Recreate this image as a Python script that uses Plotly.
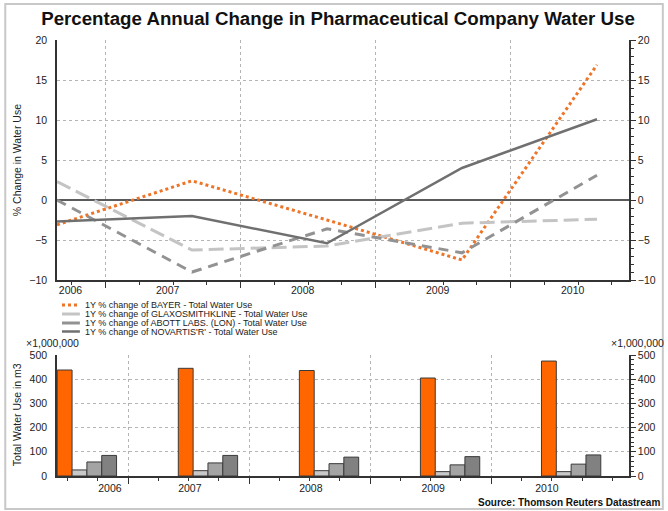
import plotly.graph_objects as go

# ---------------- data ----------------
years = [2006, 2007, 2008, 2009, 2010]
year_labels = ["2006", "2007", "2008", "2009", "2010"]

series_names = [
    "1Y % change of BAYER - Total Water Use",
    "1Y % change of GLAXOSMITHKLINE - Total Water Use",
    "1Y % change of ABOTT LABS. (LON) - Total Water Use",
    "1Y % change of NOVARTIS'R' - Total Water Use",
]
bayer_chg = [-3.1, 2.4, -2.5, -7.5, 16.9]
glaxo_chg = [2.3, -6.25, -5.75, -2.9, -2.4]
abott_chg = [0.0, -9.0, -3.6, -6.6, 3.1]
novartis_chg = [-2.7, -2.0, -5.4, 4.0, 10.1]

# total water use, millions of m3
bayer_use = [438, 445, 436, 405, 475]
glaxo_use = [25, 22, 22, 18, 18]
abott_use = [58, 54, 51, 46, 49]
novartis_use = [85, 85, 78, 80, 87]

# axis tick positions (time axis: year grid and mid-period labels)
top_grid = [2006.36, 2007.36, 2008.36, 2009.36]
top_label_pos = [2006.10, 2006.82, 2007.82, 2008.82, 2009.82]
bot_grid = [2006.34, 2007.34, 2008.34, 2009.34]
bot_label_pos = [2006.19, 2006.85, 2007.85, 2008.86, 2009.80]

# ---------------- style ----------------
FONT = "Liberation Sans, Arial, sans-serif"
line_colors = ["#EE7428", "#C4C4C4", "#929292", "#707070"]
line_dash = ["3px,3px", "15px,6px", "10px,7px", "solid"]
line_width = [3, 3, 3, 2.5]
bar_colors = ["#FF6600", "#C8C8C8", "#A4A4A4", "#818181"]
GRID = "#B4B4B4"
AX = "#333333"

top_range = [2006.0, 2010.237]
bot_range = [2005.753, 2010.478]

fig = go.Figure()

chg_data = [bayer_chg, glaxo_chg, abott_chg, novartis_chg]
for name, vals, c, d, w in zip(series_names, chg_data, line_colors, line_dash, line_width):
    fig.add_trace(go.Scatter(x=years, y=vals, mode="lines", name=name,
                             line=dict(color=c, dash=d, width=w),
                             xaxis="x", yaxis="y", showlegend=False))

use_data = [bayer_use, glaxo_use, abott_use, novartis_use]
for name, vals, c in zip(series_names, use_data, bar_colors):
    fig.add_trace(go.Bar(x=years, y=vals, name=name, marker=dict(color=c, line=dict(color="#3a3a3a", width=1)),
                         xaxis="x2", yaxis="y3", showlegend=False))

# dummy traces so label / right axes are drawn
fig.add_trace(go.Scatter(x=[None], y=[None], xaxis="x3", yaxis="y2", showlegend=False, hoverinfo="skip"))
fig.add_trace(go.Scatter(x=[None], y=[None], xaxis="x4", yaxis="y4", showlegend=False, hoverinfo="skip"))

tickfont = dict(family=FONT, size=10.5, color="#222")

top_dom = [0.4495, 1.0]
bot_dom = [0.0, 0.2775]

fig.update_layout(
    width=668, height=511,
    margin=dict(l=57, r=36, t=40, b=35),
    paper_bgcolor="white", plot_bgcolor="white",
    barmode="group", bargap=0.51, bargroupgap=0,
    font=dict(family=FONT, color="#222"),
    title=dict(text="<b>Percentage Annual Change in Pharmaceutical Company Water Use</b>",
               x=0.506, xanchor="center", y=1 - 18 / 511, yanchor="middle",
               font=dict(family=FONT, size=18.7, color="#111")),
    xaxis=dict(domain=[0, 1], anchor="y", range=top_range, tickmode="array",
               tickvals=top_grid, ticktext=[""] * len(top_grid),
               showgrid=True, gridcolor=GRID, griddash="dot", gridwidth=1,
               ticks="outside", ticklen=6, tickcolor=AX,
               minor=dict(dtick=0.25, tick0=2006.11, ticks="outside", ticklen=3, tickcolor=AX, showgrid=False),
               showline=True, linecolor=AX, linewidth=1.5, zeroline=False),
    xaxis3=dict(overlaying="x", anchor="y", range=top_range, tickmode="array",
                tickvals=top_label_pos, ticktext=year_labels, ticks="", showgrid=False,
                showline=False, zeroline=False, tickfont=tickfont, side="bottom",
                ticklabelstandoff=2),
    yaxis=dict(domain=top_dom, anchor="x", range=[-10, 20], dtick=5, tick0=0,
               showgrid=True, gridcolor=GRID, griddash="dot", gridwidth=1,
               zeroline=True, zerolinecolor="#5a5a5a", zerolinewidth=2,
               showline=True, linecolor=AX, linewidth=1.5, ticks="",
               ticklabelstandoff=6, tickfont=tickfont),
    yaxis2=dict(overlaying="y", anchor="x", side="right", range=[-10, 20], dtick=5, tick0=0,
                showgrid=False, zeroline=False, showline=True, linecolor=AX, linewidth=1.5,
                ticks="outside", ticklen=5, tickcolor=AX,
                minor=dict(dtick=1, ticks="outside", ticklen=3, tickcolor=AX),
                tickfont=tickfont),
    xaxis2=dict(domain=[0, 1], anchor="y3", range=bot_range, tickmode="array",
                tickvals=bot_grid, ticktext=[""] * len(bot_grid),
                showgrid=True, gridcolor=GRID, griddash="dot", gridwidth=1,
                ticks="outside", ticklen=6, tickcolor=AX,
                minor=dict(dtick=0.25, tick0=2006.09, ticks="outside", ticklen=3, tickcolor=AX, showgrid=False),
                showline=True, linecolor=AX, linewidth=1.5, zeroline=False),
    xaxis4=dict(overlaying="x2", anchor="y3", range=bot_range, tickmode="array",
                tickvals=bot_label_pos, ticktext=year_labels, ticks="", showgrid=False,
                showline=False, zeroline=False, tickfont=tickfont, side="bottom",
                ticklabelstandoff=4),
    yaxis3=dict(domain=bot_dom, anchor="x2", range=[0, 500], dtick=100,
                showgrid=True, gridcolor=GRID, griddash="dot", gridwidth=1,
                zeroline=False, showline=True, linecolor=AX, linewidth=1.5, ticks="",
                ticklabelstandoff=6, tickfont=tickfont),
    yaxis4=dict(overlaying="y3", anchor="x2", side="right", range=[0, 500], dtick=100,
                showgrid=False, zeroline=False, showline=True, linecolor=AX, linewidth=1.5,
                ticks="outside", ticklen=5, tickcolor=AX,
                minor=dict(dtick=20, ticks="outside", ticklen=3, tickcolor=AX),
                tickfont=tickfont),
    showlegend=False,
)

# helpers: pixel -> paper
def px_x(px):
    return (px - 57) / 575.0

def px_y(py):
    return (476 - py) / 436.0

ann = []
ann.append(dict(text="% Change in Water Use", x=px_x(17), y=px_y(160), textangle=-90,
                font=dict(family=FONT, size=10.5, color="#222")))
ann.append(dict(text="Total Water Use in m3", x=px_x(17), y=px_y(415), textangle=-90,
                font=dict(family=FONT, size=10.5, color="#222")))
ann.append(dict(text="×1,000,000", x=px_x(24), y=px_y(343), xanchor="left",
                font=dict(family=FONT, size=10.5, color="#222")))
ann.append(dict(text="×1,000,000", x=px_x(612), y=px_y(343), xanchor="left",
                font=dict(family=FONT, size=10.5, color="#222")))
ann.append(dict(text="<b>Source: Thomson Reuters Datastream</b>", x=px_x(665), y=px_y(502),
                xanchor="right", font=dict(family=FONT, size=10, color="#111")))

# custom compact legend
leg_y = [305, 314, 323, 331.5]
leg_shape_dash = ["dot", "solid", "solid", "solid"]
shapes = []
for name, c, yy, d, w in zip(series_names, line_colors, leg_y, leg_shape_dash, line_width):
    ann.append(dict(text=name, x=px_x(83), y=px_y(yy), xanchor="left", yanchor="middle",
                    font=dict(family=FONT, size=9, color="#222")))
    shapes.append(dict(type="line", xref="paper", yref="paper", x0=px_x(62), x1=px_x(80),
                       y0=px_y(yy), y1=px_y(yy), line=dict(color=c, width=w, dash=d)))

for a in ann:
    a.setdefault("xref", "paper")
    a.setdefault("yref", "paper")
    a.setdefault("showarrow", False)
    a.setdefault("yanchor", "middle")
    a.setdefault("xanchor", "center")

# outer frame
shapes.append(dict(type="rect", xref="paper", yref="paper", x0=px_x(5), x1=px_x(666),
                   y0=px_y(509), y1=px_y(4), line=dict(color="#C8C8C8", width=2), layer="below"))

fig.update_layout(annotations=ann, shapes=shapes)
fig.write_html("out.html", config={"displayModeBar": False},
               post_script="document.body.style.margin='0';document.body.style.overflow='hidden';")
